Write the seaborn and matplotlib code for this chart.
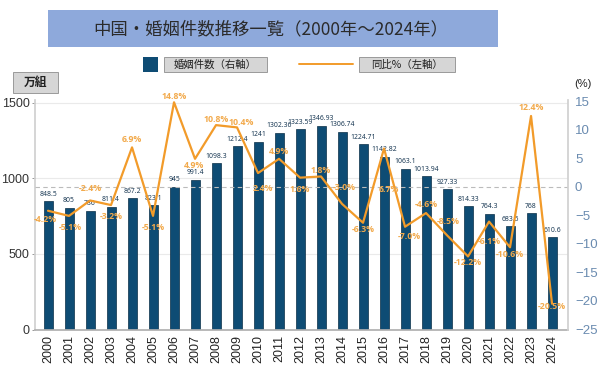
import numpy as np
import pandas as pd
import matplotlib
matplotlib.use("Agg")
import matplotlib.pyplot as plt
from matplotlib.patches import Rectangle
from matplotlib.lines import Line2D
import seaborn as sns

# ---- data ----
years = [str(y) for y in range(2000, 2025)]
marriages = [848.5, 805, 786, 811.4, 867.2, 823.1, 945, 991.4, 1098.3, 1212.4,
             1241, 1302.36, 1323.59, 1346.93, 1306.74, 1224.71, 1142.82, 1063.1,
             1013.94, 927.33, 814.33, 764.3, 683.5, 768, 610.6]
bar_labels = ["848.5", "805", "786", "811.4", "867.2", "823.1", "945", "991.4",
              "1098.3", "1212.4", "1241", "1302.36", "1323.59", "1346.93",
              "1306.74", "1224.71", "1142.82", "1063.1", "1013.94", "927.33",
              "814.33", "764.3", "683.5", "768", "610.6"]
yoy = [-4.2, -5.1, -2.4, -3.2, 6.9, -5.1, 14.8, 4.9, 10.8, 10.4, 2.4, 4.9, 1.6,
       1.8, -3.0, -6.3, 6.7, -7.0, -4.6, -8.5, -12.2, -6.1, -10.6, 12.4, -20.5]
left_ticks = [0, 500, 1000, 1500]
right_ticks = [-25, -20, -15, -10, -5, 0, 5, 10, 15]

title = "中国・婚姻件数推移一覧（2000年～2024年）"
legend_bar = "婚姻件数（右軸）"
legend_line = "同比%（左軸）"
unit_left = "万組"
unit_right = "(%)"

# label offsets in pixels (dx, dy; dy positive = up)
lbl_off = [(-3, -9), (1, -12), (0, 12), (0, -11), (0, 8), (0, -12), (0, 6),
           (-1, -7), (0, 6), (4, 5), (5, -15), (0, 7), (0, -12), (0, 6),
           (2, 16), (0, -7), (5, -41), (4, -10), (0, 9), (1, 14), (0, -6),
           (0, -20), (0, -7), (0, 8), (0, -3)]

# ---- style ----
sns.set_theme(style="white")
plt.rcParams['font.family'] = ['Liberation Sans', 'Noto Sans CJK JP', 'DejaVu Sans']

W, H = 600, 365
fig = plt.figure(figsize=(6, 3.65), dpi=100)

def fx(x):
    return x / W

def fy(y):
    return 1 - y / H

ax_l, ax_r, ax_t, ax_b = 35, 568, 100, 329.5
ax = fig.add_axes([fx(ax_l), fy(ax_b), fx(ax_r) - fx(ax_l), fy(ax_t) - fy(ax_b)])

df = pd.DataFrame({"year": years, "marriages": marriages, "yoy": yoy})
bar_color = "#0E4C74"
line_color = "#F29B2A"
label_orange = "#F2AA4C"

sns.barplot(data=df, x="year", y="marriages", color=bar_color, width=0.43,
            edgecolor="#0A2E47", linewidth=0.5, saturation=1, ax=ax, zorder=2)
ax.set_ylim(0, 1518)
ax.set_xlim(-0.62, 24.76)
ax.set_yticks(left_ticks)
ax.set_yticklabels([str(t) for t in left_ticks], fontsize=9, color="#333333")
ax.set_xticks(range(len(years)))
ax.set_xticklabels(years, rotation=90, fontsize=9, color="#222222")
ax.set_xlabel("")
ax.set_ylabel("")
ax.tick_params(axis="y", length=2.5, width=0.6, color="#888888", pad=1.5)
ax.tick_params(axis="x", length=0, pad=4)
for t in [500, 1000, 1500]:
    ax.axhline(t, color="#EAEAEA", lw=0.8, zorder=0)
ax.spines["top"].set_visible(False)
ax.spines["left"].set_color("#D0D0D0")
ax.spines["bottom"].set_color("#B0B0B0")
ax.spines["right"].set_visible(False)

for i, (v, s) in enumerate(zip(marriages, bar_labels)):
    ax.annotate(s, (i, v), xytext=(0, 3.5), textcoords="offset pixels",
                ha="center", va="bottom", fontsize=4.9, color="#1B3A55",
                family=["Noto Sans", "DejaVu Sans"], zorder=3)

ax2 = ax.twinx()
sns.lineplot(x=np.arange(len(years)), y=yoy, color=line_color, lw=1.6, ax=ax2,
             zorder=4)
ax2.set_ylim(-25, 15.2)
ax2.set_yticks(right_ticks)
ax2.set_yticklabels([f"{t}".replace("-", "\u2212") for t in right_ticks],
                    fontsize=9.5, color="#6A8BB0")
ax2.tick_params(axis="y", length=0, pad=5)
ax2.axhline(0, color="#BBBBBB", lw=0.8, ls=(0, (4, 3)), zorder=1)
for s in ["top", "left", "bottom"]:
    ax2.spines[s].set_visible(False)
ax2.spines["right"].set_color("#D0D0D0")
ax2.set_ylabel("")

for i, v in enumerate(yoy):
    dx, dy = lbl_off[i]
    ax2.annotate(f"{v:.1f}%", (i, v), xytext=(dx, dy), textcoords="offset pixels",
                 ha="center", va="center", fontsize=6.3, fontweight="bold",
                 color=label_orange, family=["Open Sans", "DejaVu Sans"], zorder=5)

# ---- title box ----
fig.patches.append(Rectangle((fx(48), fy(47)), fx(498) - fx(48), fy(10) - fy(47),
                             transform=fig.transFigure, facecolor="#8EA9DB",
                             edgecolor="none", zorder=0))
fig.text(fx(271), fy(29), title, ha="center", va="center", fontsize=12.5,
         color="#2B2B2B", family=["Noto Sans CJK JP", "DejaVu Sans"])

# ---- legend ----
fig.patches.append(Rectangle((fx(143), fy(72)), fx(15), fy(57) - fy(72),
                             transform=fig.transFigure, facecolor=bar_color,
                             edgecolor="none"))
for x0, x1, txt in [(164, 267, legend_bar), (359, 455, legend_line)]:
    fig.patches.append(Rectangle((fx(x0), fy(72)), fx(x1 - x0), fy(57) - fy(72),
                                 transform=fig.transFigure, facecolor="#D6D6D6",
                                 edgecolor="#9A9A9A", lw=0.7))
    fig.text(fx((x0 + x1) / 2), fy(64.5), txt, ha="center", va="center",
             fontsize=7.5, color="#222222",
             family=["Noto Sans CJK JP", "DejaVu Sans"])
fig.lines.append(Line2D([fx(299), fx(353)], [fy(64), fy(64)],
                        transform=fig.transFigure, color=line_color, lw=1.4))

# ---- unit labels ----
fig.patches.append(Rectangle((fx(13), fy(93)), fx(45), fy(72) - fy(93),
                             transform=fig.transFigure, facecolor="#D6D6D6",
                             edgecolor="#9A9A9A", lw=0.7))
fig.text(fx(35.5), fy(82.5), unit_left, ha="center", va="center", fontsize=8.5,
         color="#222222", fontweight="bold",
         family=["Noto Sans CJK JP", "DejaVu Sans"])
fig.text(fx(583), fy(84), unit_right, ha="center", va="center", fontsize=8,
         color="#222222")

fig.savefig("out.png", dpi=100)
